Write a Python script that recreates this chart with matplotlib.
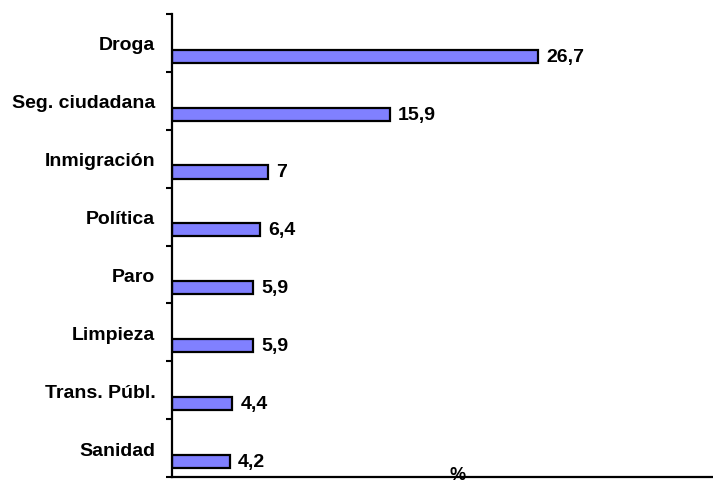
import numpy as np
import matplotlib.pyplot as plt

plt.rcParams['font.family'] = ['Liberation Sans', 'DejaVu Sans']

categories = ["Droga", "Seg. ciudadana", "Inmigración", "Política",
              "Paro", "Limpieza", "Trans. Públ.", "Sanidad"]
values = [26.7, 15.9, 7, 6.4, 5.9, 5.9, 4.4, 4.2]
value_labels = ["26,7", "15,9", "7", "6,4", "5,9", "5,9", "4,4", "4,2"]

fig = plt.figure(figsize=(7.13, 4.85), dpi=100)
ax = fig.add_axes([172 / 713, 7 / 485, 541 / 713, 463 / 485])

y = np.arange(len(categories))
ax.barh(y + 0.73, values, height=0.225, color="#8080FF",
        edgecolor="black", linewidth=1.6)

for yi, v, lab in zip(y, values, value_labels):
    ax.annotate(lab, (v, yi + 0.73), xytext=(6, 0), textcoords="offset points",
                ha="left", va="center", fontsize=14, fontweight="bold")

ax.set_xlim(0, 39.5)
ax.set_ylim(len(categories), 0)

# ticks at category boundaries, labels centred in each slot
ax.set_yticks(np.arange(len(categories) + 1))
ax.set_yticklabels([])
ax.set_yticks(y + 0.5, minor=True)
ax.set_yticklabels(categories, minor=True, fontsize=14, fontweight="bold")
ax.tick_params(axis="y", which="major", direction="out", length=4, width=1.5)
ax.tick_params(axis="y", which="minor", length=0, pad=12)
ax.set_xticks([])

for s in ["top", "right"]:
    ax.spines[s].set_visible(False)
ax.spines["left"].set_linewidth(1.6)
ax.spines["bottom"].set_linewidth(1.6)

fig.text(458 / 713, 1 / 485, "%", ha="center", va="bottom",
         fontsize=13, fontweight="bold")

fig.savefig("out.png", dpi=100)
